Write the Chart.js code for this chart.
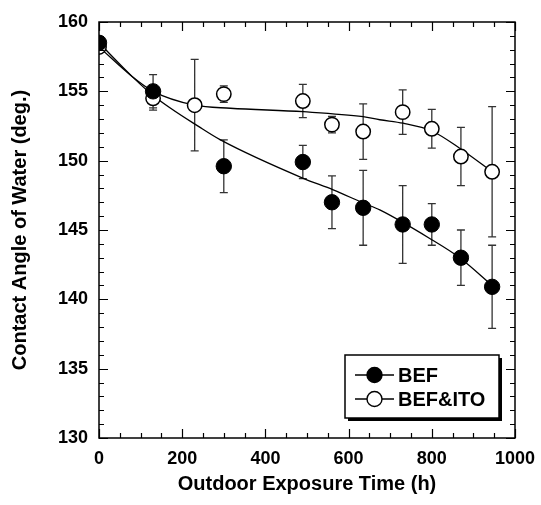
<!DOCTYPE html>
<html>
<head>
<meta charset="utf-8">
<script src="https://cdn.jsdelivr.net/npm/chart.js@4/dist/chart.umd.min.js"></script>
<style>
  html, body { margin: 0; padding: 0; background: #fff; }
  #wrap { width: 541px; height: 505px; }
</style>
</head>
<body>
<div id="wrap"><canvas id="c" width="541" height="505"></canvas></div>
<script>
// ---- Data ----
const befHours   = [0, 130, 300, 490, 560, 635, 730, 800, 870, 945];
const befAngle   = [158.5, 155.0, 149.6, 149.9, 147.0, 146.6, 145.4, 145.4, 143.0, 140.9];
const befErr     = [0, 1.2, 1.9, 1.2, 1.9, 2.7, 2.8, 1.5, 2.0, 3.0];

const itoHours   = [0, 130, 230, 300, 490, 560, 635, 730, 800, 870, 945];
const itoAngle   = [158.2, 154.5, 154.0, 154.8, 154.3, 152.6, 152.1, 153.5, 152.3, 150.3, 149.2];
const itoErr     = [0, 0.85, 3.3, 0.6, 1.2, 0.6, 2.0, 1.6, 1.4, 2.1, 4.7];

// fitted curves
const befFitHours = [0, 80, 130, 248, 292, 491, 563, 635, 675, 800, 867, 945];
const befFitAngle = [158.5, 156.06, 154.7, 152.3, 151.5, 148.73, 147.9, 146.95, 146.45, 144.3, 143.0, 141.0];
const itoFitHours = [0, 80, 130, 230, 316, 491, 635, 675, 731, 800, 867, 945];
const itoFitAngle = [158.2, 156.06, 155.0, 154.0, 153.78, 153.53, 153.17, 152.95, 152.7, 152.14, 150.9, 149.2];

const xTicks = [0, 200, 400, 600, 800, 1000];
const yTicks = [130, 135, 140, 145, 150, 155, 160];
const seriesLabels = ['BEF', 'BEF&ITO'];
const xTitle = 'Outdoor Exposure Time (h)';
const yTitle = 'Contact Angle of Water (deg.)';

const toXY = (xs, ys) => xs.map((x, i) => ({ x, y: ys[i] }));

const FONT = 'Liberation Sans, Arial, Helvetica, sans-serif';

const frameTicks = {
  id: 'frameTicks',
  afterDatasetsDraw(chart) {
    const { ctx, chartArea: a, scales: { x, y } } = chart;
    ctx.save();
    ctx.strokeStyle = '#000';
    ctx.lineWidth = 1.5;
    ctx.strokeRect(a.left, a.top, a.right - a.left, a.bottom - a.top);
    ctx.lineWidth = 1.2;
    ctx.beginPath();
    for (let v = x.min; v <= x.max + 1e-9; v += 50) {
      const px = Math.round(x.getPixelForValue(v)) + 0.5;
      const len = (v % 200 === 0) ? 9 : 5;
      ctx.moveTo(px, a.bottom); ctx.lineTo(px, a.bottom - len);
      ctx.moveTo(px, a.top); ctx.lineTo(px, a.top + len);
    }
    for (let v = y.min; v <= y.max + 1e-9; v += 1) {
      const py = Math.round(y.getPixelForValue(v)) + 0.5;
      const len = (v % 5 === 0) ? 9 : 5;
      ctx.moveTo(a.left, py); ctx.lineTo(a.left + len, py);
      ctx.moveTo(a.right, py); ctx.lineTo(a.right - len, py);
    }
    ctx.stroke();
    ctx.restore();
  }
};

const errorBars = {
  id: 'errorBars',
  beforeDatasetsDraw(chart) {
    const { ctx, scales: { x, y } } = chart;
    const sets = [[befHours, befAngle, befErr], [itoHours, itoAngle, itoErr]];
    ctx.save();
    ctx.strokeStyle = '#333';
    ctx.lineWidth = 1.3;
    ctx.beginPath();
    sets.forEach(([xs, ys, es]) => {
      xs.forEach((xv, i) => {
        if (!es[i]) return;
        const px = x.getPixelForValue(xv);
        const top = y.getPixelForValue(ys[i] + es[i]);
        const bot = y.getPixelForValue(ys[i] - es[i]);
        ctx.moveTo(px, top); ctx.lineTo(px, bot);
        ctx.moveTo(px - 4, top); ctx.lineTo(px + 4, top);
        ctx.moveTo(px - 4, bot); ctx.lineTo(px + 4, bot);
      });
    });
    ctx.stroke();
    ctx.restore();
  }
};

const boxLegend = {
  id: 'boxLegend',
  afterDraw(chart) {
    const { ctx, chartArea: a } = chart;
    const w = 154, h = 63;
    const left = a.right - 16 - w, top = a.bottom - 20 - h;
    ctx.save();
    ctx.fillStyle = '#000';
    ctx.fillRect(left + 3, top + 3, w, h);
    ctx.fillStyle = '#fff';
    ctx.fillRect(left, top, w, h);
    ctx.strokeStyle = '#000';
    ctx.lineWidth = 1.5;
    ctx.strokeRect(left, top, w, h);
    const rows = [
      { label: chart.data.datasets[0].label, fill: '#000', y: top + 20 },
      { label: chart.data.datasets[1].label, fill: '#fff', y: top + 44 }
    ];
    ctx.font = 'bold 20px ' + FONT;
    ctx.textBaseline = 'middle';
    rows.forEach(r => {
      ctx.beginPath();
      ctx.lineWidth = 1.3;
      ctx.moveTo(left + 10, r.y); ctx.lineTo(left + 49, r.y);
      ctx.stroke();
      ctx.beginPath();
      ctx.arc(left + 29.5, r.y, 7.5, 0, Math.PI * 2);
      ctx.fillStyle = r.fill;
      ctx.fill();
      ctx.lineWidth = 1.4;
      ctx.stroke();
      ctx.fillStyle = '#000';
      ctx.fillText(r.label, left + 53, r.y + 1);
    });
    ctx.restore();
  }
};

new Chart(document.getElementById('c'), {
  type: 'scatter',
  data: {
    datasets: [
      {
        label: seriesLabels[0],
        data: toXY(befHours, befAngle),
        showLine: false,
        pointRadius: 7.7,
        pointBackgroundColor: '#000',
        pointBorderColor: '#000',
        pointBorderWidth: 1,
        order: 1
      },
      {
        label: seriesLabels[1],
        data: toXY(itoHours, itoAngle),
        showLine: false,
        pointRadius: 7.2,
        pointBackgroundColor: '#fff',
        pointBorderColor: '#000',
        pointBorderWidth: 1.5,
        order: 1
      },
      {
        label: 'BEF fit',
        data: toXY(befFitHours, befFitAngle),
        showLine: true,
        pointRadius: 0,
        borderColor: '#000',
        borderWidth: 1.3,
        cubicInterpolationMode: 'monotone',
        order: 3
      },
      {
        label: 'BEF&ITO fit',
        data: toXY(itoFitHours, itoFitAngle),
        showLine: true,
        pointRadius: 0,
        borderColor: '#000',
        borderWidth: 1.3,
        cubicInterpolationMode: 'monotone',
        order: 3
      }
    ]
  },
  options: {
    responsive: false,
    animation: false,
    devicePixelRatio: 1,
    layout: { padding: { top: 22, right: 26, left: 0, bottom: 0 } },
    plugins: {
      legend: { display: false },
      tooltip: { enabled: false }
    },
    scales: {
      x: {
        type: 'linear',
        min: 0, max: 1000,
        afterBuildTicks: s => { s.ticks = xTicks.map(v => ({ value: v })); },
        afterFit: s => { s.height = 67; s.paddingRight = 0; s.paddingLeft = 0; },
        grid: { display: false, drawTicks: false },
        border: { display: false },
        ticks: {
          padding: 10, color: '#000', maxRotation: 0,
          font: { family: FONT, size: 18, weight: 'bold' },
          callback: v => String(v)
        },
        title: {
          display: true, text: xTitle, color: '#000',
          font: { family: FONT, size: 20, weight: 'bold' },
          padding: { top: 0, bottom: 9 }
        }
      },
      y: {
        type: 'linear',
        min: 130, max: 160,
        afterBuildTicks: s => { s.ticks = yTicks.map(v => ({ value: v })); },
        afterFit: s => { s.width = 99; },
        grid: { display: false, drawTicks: false },
        border: { display: false },
        ticks: {
          padding: 11, color: '#000',
          font: { family: FONT, size: 18, weight: 'bold' },
          callback: v => String(v)
        },
        title: {
          display: true, text: yTitle, color: '#000',
          font: { family: FONT, size: 20, weight: 'bold' },
          padding: { top: 8, bottom: 0 }
        }
      }
    }
  },
  plugins: [errorBars, frameTicks, boxLegend]
});
</script>
</body>
</html>
